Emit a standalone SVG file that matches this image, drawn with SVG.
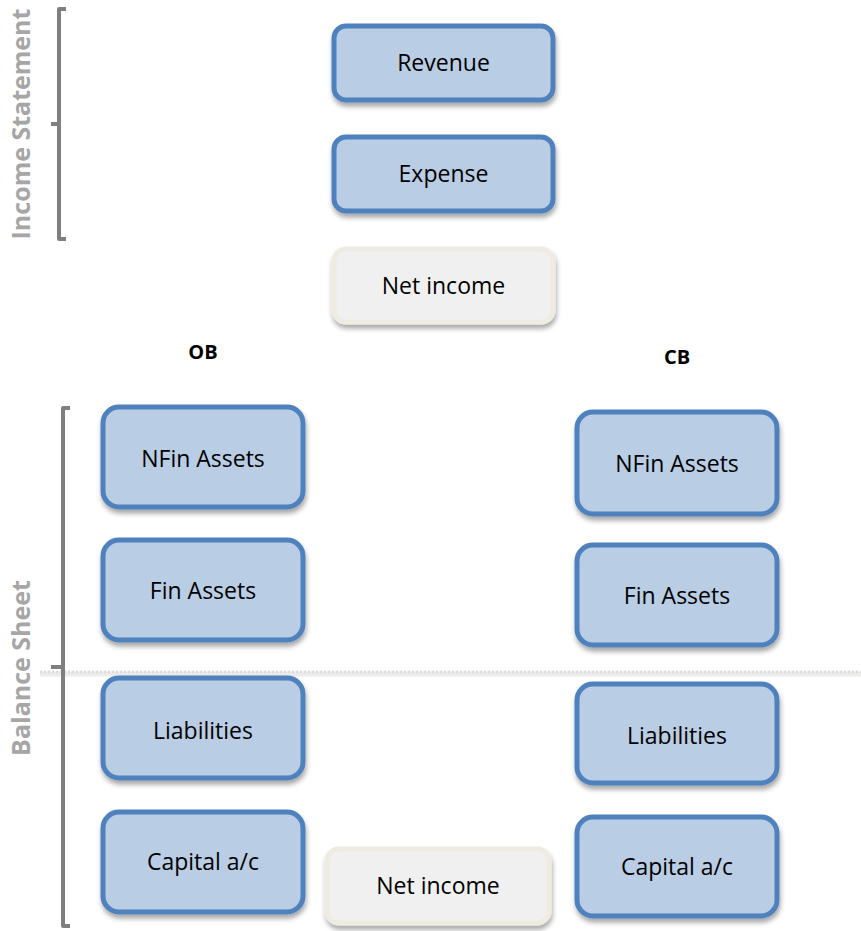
<svg xmlns="http://www.w3.org/2000/svg" width="861" height="931" viewBox="0 0 861 931">
<style>
.b{fill:#b9cde5;stroke:#4f81bd;stroke-width:5}
.n{fill:#f0f0f0;stroke:#eeece1;stroke-width:5}
.t{font-family:"Open Sans","Liberation Sans",sans-serif;font-size:23px;fill:#000;text-anchor:middle;dominant-baseline:central}
.h{font-family:"Open Sans","Liberation Sans",sans-serif;font-size:20px;font-weight:bold;fill:#000;text-anchor:middle}
.s{font-family:"Open Sans","Liberation Sans",sans-serif;font-size:25px;font-weight:bold;fill:#a6a6a6;text-anchor:middle}
.br{fill:none;stroke:#7f7f7f;stroke-width:4;stroke-linejoin:round}
</style>
<defs>
<filter id="sh" x="-10%" y="-10%" width="125%" height="135%">
<feDropShadow dx="1" dy="4" stdDeviation="2.5" flood-color="#000" flood-opacity="0.35"/>
</filter>
</defs>
<g id="dotline">
<line x1="40" y1="674" x2="861" y2="674" stroke="#ececec" stroke-width="5"/>
<line x1="40" y1="672" x2="861" y2="672" stroke="#dcdcd4" stroke-width="3" stroke-dasharray="2,2"/>
</g>
<g id="income-statement-bracket">
<path class="br" d="M66,9 H59 V239 H66 M59,124 H51"/>
<text class="s" transform="translate(30,124) rotate(-90)">Income Statement</text>
</g>
<g id="balance-sheet-bracket">
<path class="br" d="M70,408 H63 V926 H70 M63,667 H51"/>
<text class="s" transform="translate(30,668) rotate(-90)">Balance Sheet</text>
</g>
<g id="revenue"><rect class="b" x="334" y="26" width="219" height="74" rx="12" filter="url(#sh)"/><text class="t" x="443.5" y="62">Revenue</text></g>
<g id="expense"><rect class="b" x="334" y="137" width="219" height="74" rx="12" filter="url(#sh)"/><text class="t" x="443.5" y="173">Expense</text></g>
<g id="net-income-top"><rect class="n" x="334" y="249" width="219" height="73" rx="12" filter="url(#sh)"/><text class="t" x="443.5" y="285">Net income</text></g>
<text class="h" x="203" y="359">OB</text>
<text class="h" x="677" y="364">CB</text>
<g id="ob-nfin"><rect class="b" x="103" y="407" width="200" height="100" rx="16" filter="url(#sh)"/><text class="t" x="203" y="458">NFin Assets</text></g>
<g id="ob-fin"><rect class="b" x="103" y="540" width="200" height="100" rx="16" filter="url(#sh)"/><text class="t" x="203" y="590">Fin Assets</text></g>
<g id="ob-liab"><rect class="b" x="103" y="678" width="200" height="100" rx="16" filter="url(#sh)"/><text class="t" x="203" y="730">Liabilities</text></g>
<g id="ob-cap"><rect class="b" x="103" y="812" width="200" height="100" rx="16" filter="url(#sh)"/><text class="t" x="203" y="861">Capital a/c</text></g>
<g id="cb-nfin"><rect class="b" x="577" y="412" width="200" height="102" rx="16" filter="url(#sh)"/><text class="t" x="677" y="463">NFin Assets</text></g>
<g id="cb-fin"><rect class="b" x="577" y="545" width="200" height="100" rx="16" filter="url(#sh)"/><text class="t" x="677" y="595">Fin Assets</text></g>
<g id="cb-liab"><rect class="b" x="577" y="684" width="200" height="99" rx="16" filter="url(#sh)"/><text class="t" x="677" y="735">Liabilities</text></g>
<g id="cb-cap"><rect class="b" x="577" y="817" width="200" height="99" rx="16" filter="url(#sh)"/><text class="t" x="677" y="866">Capital a/c</text></g>
<g id="net-income-bottom"><rect class="n" x="327" y="849" width="222" height="74" rx="12" filter="url(#sh)"/><text class="t" x="438" y="885">Net income</text></g>
</svg>
